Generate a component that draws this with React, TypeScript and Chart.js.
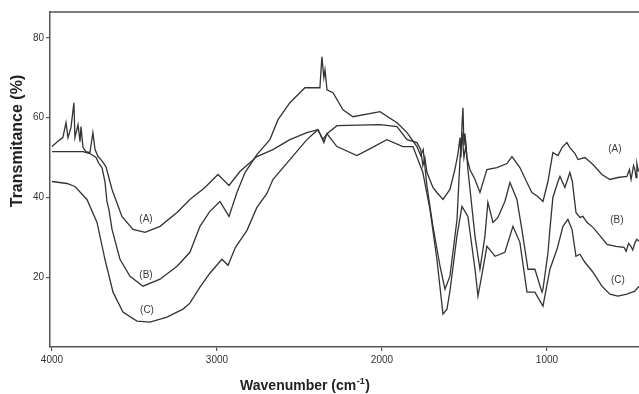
import React, { useEffect, useRef } from 'react';
import { Chart, registerables } from 'chart.js';

Chart.register(...registerables);

// ---- Data (wavenumber in cm-1, transmittance in %) ----
const wnA = [4000, 3952, 3934, 3915, 3903, 3885, 3867, 3861, 3842, 3830, 3824, 3812, 3794, 3770, 3752, 3739, 3721, 3703, 3673, 3636, 3576, 3509, 3436, 3345, 3242, 3164, 3073, 2994, 2927, 2861, 2758, 2661, 2558, 2455, 2388, 2358, 2333, 2273, 2012, 1909, 1848, 1788, 1765, 1752, 1740, 1727, 1691, 1667, 1630, 1588, 1558, 1539, 1527, 1521, 1515, 1509, 1503, 1497, 1485, 1467, 1436, 1406, 1364, 1303, 1242, 1212, 1164, 1121, 1091, 1055, 1024, 994, 964, 933, 909, 879, 861, 830, 812, 770, 721, 667, 618, 570, 515, 500, 490, 475, 467, 460, 455, 445];
const tA = [52.75, 54.5, 55, 58.75, 55, 57.5, 63.75, 55, 58.25, 54, 57.75, 52.5, 51.5, 51.25, 56.25, 52, 50.25, 49.5, 47.75, 42, 35.25, 32, 31.25, 32.75, 36.25, 39.5, 42.5, 45.75, 43, 46.5, 50.25, 52, 54.5, 56.25, 57, 54.5, 56, 58, 58.25, 57.75, 54.5, 53.75, 52, 48, 50, 46.25, 42.5, 41.25, 39.5, 42, 47, 51, 55, 50, 58, 62.5, 53, 56, 50, 47, 44.5, 41.25, 47, 47.5, 48.5, 50.25, 47.5, 43.75, 41.25, 40.25, 39, 44, 51.25, 50.5, 52.5, 53.75, 52.5, 51, 49.5, 50, 48.25, 45.75, 44.5, 45, 45.25, 47, 44.5, 48, 47, 45, 48.5, 46.5];

const wnB = [4000, 3812, 3770, 3733, 3715, 3697, 3679, 3667, 3655, 3636, 3588, 3527, 3448, 3345, 3242, 3164, 3103, 3043, 2982, 2927, 2879, 2830, 2758, 2679, 2630, 2558, 2467, 2376, 2364, 2352, 2345, 2333, 2297, 2236, 2176, 2012, 1909, 1848, 1788, 1765, 1750, 1727, 1691, 1648, 1618, 1588, 1545, 1527, 1515, 1503, 1491, 1479, 1436, 1406, 1376, 1358, 1327, 1297, 1255, 1224, 1182, 1152, 1115, 1073, 1030, 1024, 994, 982, 964, 933, 921, 891, 861, 846, 824, 800, 782, 758, 721, 685, 636, 582, 533, 520, 505, 491, 480, 465, 455, 442];
const tB = [51.5, 51.5, 51, 50, 48.5, 47.5, 44, 39, 37, 32, 24.5, 20.25, 17.75, 19.5, 22.75, 26.25, 32.75, 36.5, 39, 35.25, 41.25, 46.25, 50.75, 54.5, 59.5, 63.75, 67.5, 67.5, 75.25, 70, 72, 67, 66.25, 62, 60.25, 61.5, 58.75, 56.25, 52.75, 50.5, 52, 42.75, 32.75, 22.75, 17, 20.25, 34.5, 49.5, 56.25, 50, 53, 47, 30.25, 22, 30.25, 38.75, 33.75, 35, 39, 43.75, 39.5, 32, 22, 22, 16.25, 17, 26, 32, 40, 44, 45.25, 42.5, 46.25, 44, 36.25, 35, 35.25, 33.75, 32.5, 30.75, 28.25, 27.75, 27.5, 26.5, 28.5, 27.75, 26.8, 28.8, 29.5, 29];

const wnC = [4000, 3909, 3861, 3788, 3727, 3679, 3630, 3570, 3485, 3406, 3303, 3206, 3164, 3103, 3043, 2970, 2933, 2888, 2818, 2758, 2697, 2661, 2558, 2455, 2388, 2364, 2352, 2333, 2315, 2273, 2152, 2060, 1970, 1873, 1812, 1752, 1709, 1667, 1630, 1606, 1588, 1545, 1515, 1479, 1436, 1418, 1388, 1364, 1333, 1315, 1255, 1206, 1164, 1121, 1073, 1024, 982, 939, 903, 873, 848, 824, 800, 770, 721, 667, 618, 570, 515, 467, 442];
const tC = [44, 43.5, 42.75, 39.5, 33.75, 24.5, 16.25, 11.25, 9, 8.75, 10, 12, 13.5, 17.5, 21, 24.5, 23, 27.5, 31.75, 37.5, 41, 44.5, 49.5, 54.5, 57, 55, 53.75, 56, 55, 52.75, 50.5, 52.5, 54.5, 52.75, 52.75, 46.25, 37, 24.5, 10.75, 12, 16.5, 30.5, 37.75, 35.25, 22, 15.25, 22, 27.75, 26.25, 25.25, 26.25, 32.75, 28.75, 16.25, 16.25, 12.75, 22, 27, 32.75, 34.5, 32, 25.25, 25.75, 23.75, 21.25, 17.75, 15.75, 15.25, 15.75, 16.5, 17.75];

const xTicks = [4000, 3000, 2000, 1000];
const yTicks = [20, 40, 60, 80];

// curve annotations
const labelText = ['(A)', '(B)', '(C)', '(A)', '(B)', '(C)'];
const labelWn = [3430, 3430, 3424, 588, 576, 570];
const labelT = [34.5, 20.5, 11.75, 52, 34.25, 19.25];

const toPoints = (wn: number[], t: number[]) => wn.map((w, i) => ({ x: w, y: t[i] }));

const decor = {
  id: 'decor',
  afterDraw(chart: any) {
    const { ctx, chartArea: ca, scales } = chart;
    ctx.save();
    // top frame line
    ctx.strokeStyle = '#555';
    ctx.lineWidth = 1.5;
    ctx.beginPath();
    ctx.moveTo(ca.left, ca.top);
    ctx.lineTo(ca.right, ca.top);
    ctx.stroke();

    // curve labels
    ctx.fillStyle = '#3a3a3a';
    ctx.font = '10px Arial, "Liberation Sans", sans-serif';
    ctx.textAlign = 'center';
    ctx.textBaseline = 'middle';
    for (let i = 0; i < labelText.length; i++) {
      ctx.fillText(labelText[i], scales.x.getPixelForValue(labelWn[i]), scales.y.getPixelForValue(labelT[i]));
    }

    // y title
    ctx.fillStyle = '#222';
    ctx.save();
    ctx.font = 'bold 16px Arial, "Liberation Sans", sans-serif';
    ctx.translate(18, 141);
    ctx.rotate(-Math.PI / 2);
    ctx.textAlign = 'center';
    ctx.textBaseline = 'middle';
    ctx.fillText('Transmitance (%)', 0, 0);
    ctx.restore();

    // x title with superscript
    const mainFont = 'bold 14px Arial, "Liberation Sans", sans-serif';
    const supFont = 'bold 9px Arial, "Liberation Sans", sans-serif';
    const p1 = 'Wavenumber (cm';
    const p2 = '-1';
    const p3 = ')';
    ctx.textAlign = 'left';
    ctx.textBaseline = 'alphabetic';
    ctx.font = mainFont;
    const w1 = ctx.measureText(p1).width;
    const w3 = ctx.measureText(p3).width;
    ctx.font = supFont;
    const w2 = ctx.measureText(p2).width;
    const x0 = 305 - (w1 + w2 + w3 + 1) / 2;
    const base = 390;
    ctx.font = mainFont;
    ctx.fillText(p1, x0, base);
    ctx.font = supFont;
    ctx.fillText(p2, x0 + w1 + 0.5, base - 6);
    ctx.font = mainFont;
    ctx.fillText(p3, x0 + w1 + w2 + 1, base);
    ctx.restore();
  },
};

export default function App() {
  const ref = useRef<HTMLCanvasElement | null>(null);

  useEffect(() => {
    document.body.style.margin = '0';
    const canvas = ref.current;
    if (!canvas) return;
    const lineStyle = {
      borderColor: '#333333',
      borderWidth: 1.3,
      pointRadius: 0,
      tension: 0,
      fill: false,
    };
    const chart = new Chart(canvas, {
      type: 'line',
      data: {
        datasets: [
          { label: 'A', data: toPoints(wnA, tA), ...lineStyle },
          { label: 'B', data: toPoints(wnB, tB), ...lineStyle },
          { label: 'C', data: toPoints(wnC, tC), ...lineStyle },
        ],
      },
      options: {
        animation: false,
        responsive: false,
        devicePixelRatio: 1,
        layout: { padding: { top: 12, right: 0, left: 0, bottom: 0 } },
        plugins: {
          legend: { display: false },
          tooltip: { enabled: false },
        },
        scales: {
          x: {
            type: 'linear',
            reverse: true,
            min: 442,
            max: 4012,
            afterBuildTicks: (s: any) => {
              s.ticks = xTicks.map((v) => ({ value: v }));
            },
            afterFit: (s: any) => {
              s.height = 47;
            },
            ticks: {
              autoSkip: false,
              maxRotation: 0,
              padding: 3,
              color: '#333',
              font: { size: 10, family: 'Arial, "Liberation Sans", sans-serif' },
              callback: (v: any) => String(v),
            },
            grid: { drawOnChartArea: false, drawTicks: true, tickLength: 4, color: '#555', lineWidth: 1.2 },
            border: { display: true, color: '#555', width: 1.5 },
          },
          y: {
            type: 'linear',
            min: 2.5,
            max: 86.5,
            afterBuildTicks: (s: any) => {
              s.ticks = yTicks.map((v) => ({ value: v }));
            },
            afterFit: (s: any) => {
              s.width = 50;
            },
            ticks: {
              padding: 2,
              color: '#333',
              font: { size: 10, family: 'Arial, "Liberation Sans", sans-serif' },
              callback: (v: any) => String(v),
            },
            grid: { drawOnChartArea: false, drawTicks: true, tickLength: 4, color: '#555', lineWidth: 1.2 },
            border: { display: true, color: '#555', width: 1.5 },
          },
        },
      },
      plugins: [decor],
    });
    return () => chart.destroy();
  }, []);

  return (
    <div style={{ position: 'absolute', left: 0, top: 0, width: 639, height: 394, background: '#fff' }}>
      <canvas ref={ref} width={639} height={394} style={{ display: 'block' }} />
    </div>
  );
}
